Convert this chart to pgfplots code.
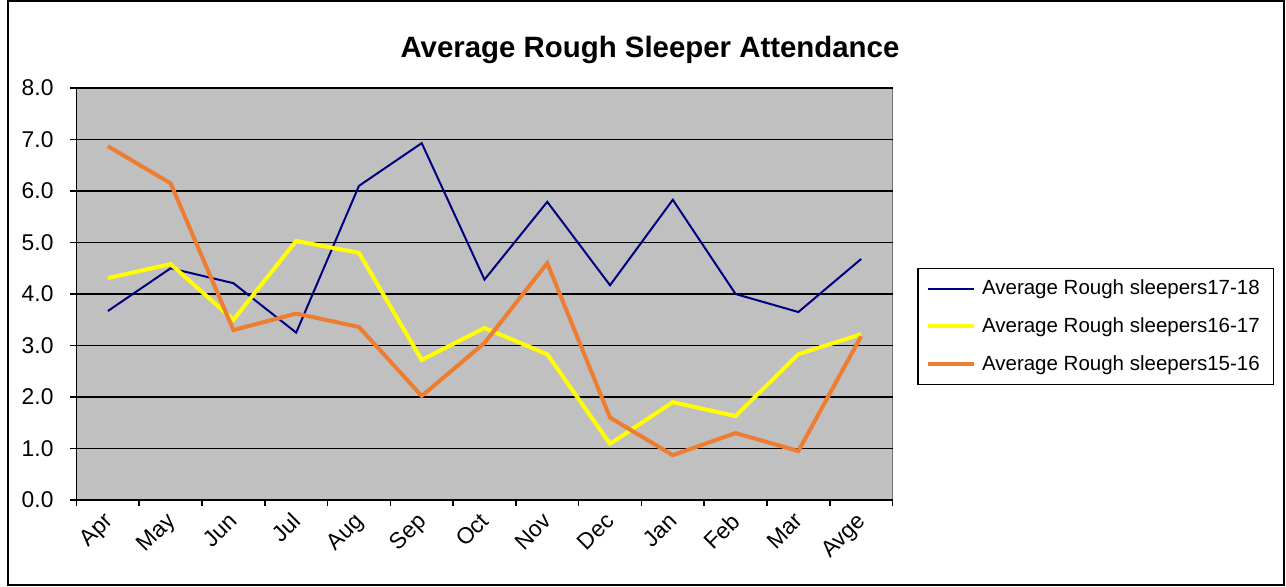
\documentclass[border=0pt]{standalone}
\usepackage{pgfplots}
\pgfplotsset{compat=1.18}
\usepackage{fontspec}
\setmainfont{Liberation Sans}
\definecolor{navyline}{RGB}{0,0,128}
\definecolor{yel}{RGB}{255,255,0}
\definecolor{org}{RGB}{237,125,49}
\definecolor{plotbg}{RGB}{192,192,192}
\begin{document}
\begin{tikzpicture}[x=1pt,y=1pt]
\useasboundingbox (0,0) rectangle (643,293);
\draw[black, line width=0.8pt] (4,0.5) rectangle (642,292.5);
\node[font=\bfseries\fontsize{14.7}{17}\selectfont] at (325,268) {Average Rough Sleeper Attendance};
\begin{axis}[
  at={(38.25pt,43pt)}, anchor=south west,
  width=408pt, height=206pt, scale only axis,
  xmin=-0.5, xmax=12.5, ymin=0, ymax=8,
  axis x line=bottom, axis y line=left,
  axis line style={-, line width=0.9pt, black},
  axis background/.style={fill=plotbg, draw=gray!90!black, line width=0.6pt},
  ytick={0,1,...,8},
  /pgf/number format/assume math mode=true,
  yticklabel style={/pgf/number format/fixed, /pgf/number format/fixed zerofill, /pgf/number format/precision=1, font=\fontsize{11.4}{13}\selectfont, xshift=-5pt},
  ymajorgrids, major grid style={black, line width=0.8pt},
  tick align=outside, major tick length=3pt,
  tick style={black, line width=0.8pt},
  xtick={-0.5,0.5,...,12.5},
  xticklabels={},
  extra x ticks={0,1,...,12},
  extra x tick labels={Apr,May,Jun,Jul,Aug,Sep,Oct,Nov,Dec,Jan,Feb,Mar,Avge},
  extra x tick style={major tick length=0pt, tick style={draw=none},
    xticklabel style={font=\fontsize{11.4}{13}\selectfont, xshift=-2.8pt, yshift=-4pt, rotate=45, anchor=north east, inner sep=1pt}},
  legend style={at={(1.0306,0.563)}, anchor=north west, draw=black, line width=0.6pt, fill=white,
    font=\fontsize{10.25}{12}\selectfont, row sep=7pt, inner xsep=4pt, inner ysep=4pt,
    nodes={inner ysep=1.5pt, inner xsep=3pt, anchor=west}},
  legend cell align=left,
  legend image code/.code={\draw[#1] (0pt,0pt) -- (23pt,0pt);},
]
\addplot[navyline, line width=1pt] coordinates {
(0,3.67) (1,4.50) (2,4.21) (3,3.25) (4,6.10) (5,6.93) (6,4.28) (7,5.79) (8,4.17) (9,5.83) (10,4.00) (11,3.65) (12,4.68)};
\addlegendentry{Average Rough sleepers17-18}
\addplot[yel, line width=2pt] coordinates {
(0,4.31) (1,4.58) (2,3.50) (3,5.03) (4,4.80) (5,2.72) (6,3.34) (7,2.83) (8,1.09) (9,1.90) (10,1.63) (11,2.83) (12,3.22)};
\addlegendentry{Average Rough sleepers16-17}
\addplot[org, line width=2pt] coordinates {
(0,6.87) (1,6.15) (2,3.30) (3,3.62) (4,3.36) (5,2.02) (6,3.05) (7,4.60) (8,1.60) (9,0.87) (10,1.30) (11,0.95) (12,3.18)};
\addlegendentry{Average Rough sleepers15-16}
\end{axis}
\end{tikzpicture}
\end{document}
